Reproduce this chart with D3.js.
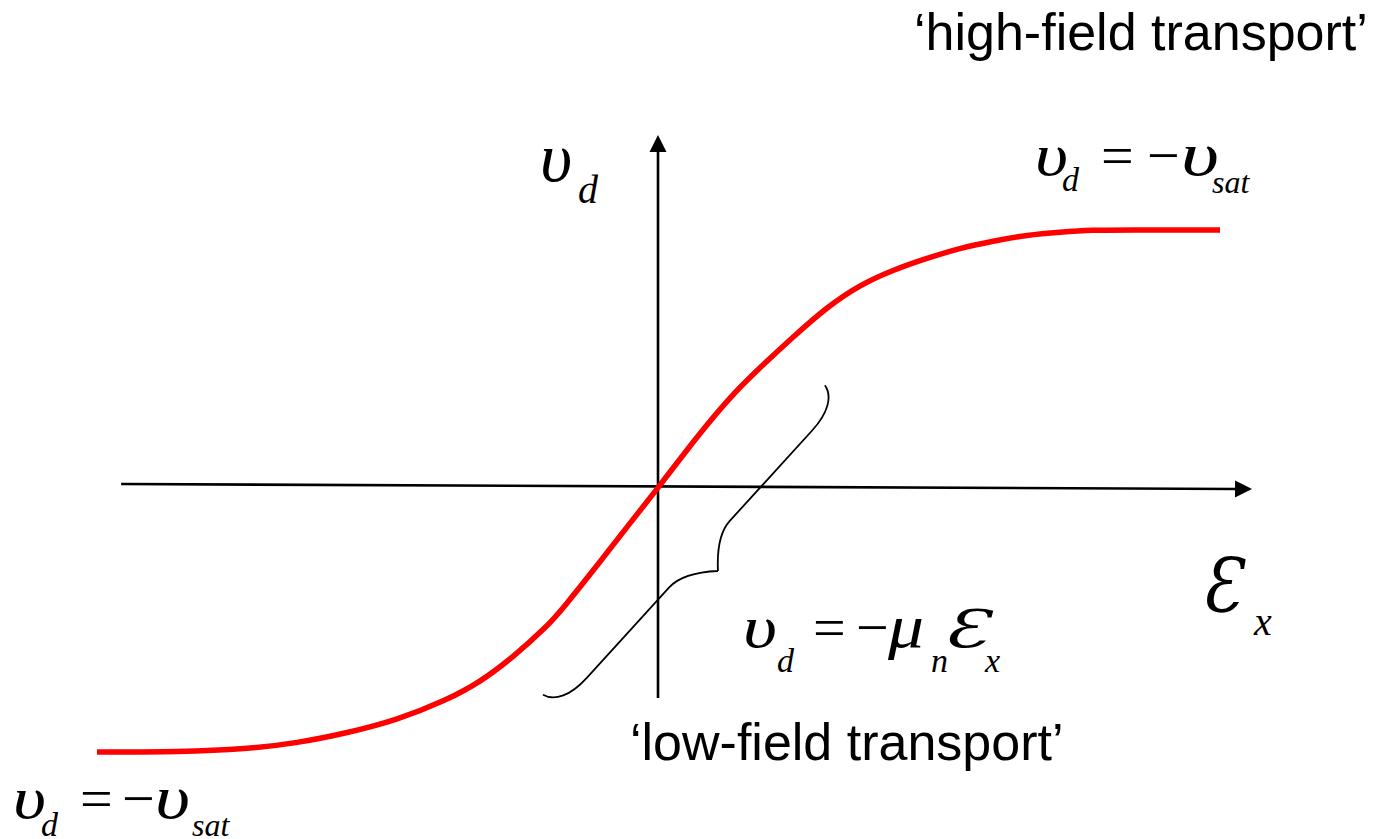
<!DOCTYPE html>
<html>
<head>
<meta charset="utf-8">
<script src="https://cdn.jsdelivr.net/npm/d3@7"></script>
<style>
  html, body { margin: 0; padding: 0; background: #fff; }
  svg { display: block; }
</style>
</head>
<body>
<svg id="chart" width="1385" height="839"></svg>
<script>
// Drift velocity vs. electric field: normalized field (x) and normalized drift velocity (y)
const fieldValues = [-1.000, -0.852, -0.733, -0.643, -0.554, -0.465, -0.376, -0.317, -0.258, -0.198, -0.169, -0.109, -0.050, 0.000,
                      0.069, 0.128, 0.183, 0.240, 0.301, 0.359, 0.418, 0.479, 0.537, 0.596, 0.657, 0.715, 0.774, 0.835, 1.000];
const driftValues = [-1.000, -1.000, -0.989, -0.966, -0.928, -0.879, -0.803, -0.735, -0.640, -0.525, -0.455, -0.295, -0.133, 0.000,
                      0.198, 0.353, 0.470, 0.585, 0.702, 0.787, 0.845, 0.891, 0.930, 0.957, 0.981, 0.992, 1.000, 1.000, 1.000];

// Axis extents in the same normalized units
const xAxisStart = [-0.957, 0.0155];
const xAxisEnd = [1.057, -0.004];
const yAxisStart = [0, -0.795];
const yAxisEnd = [0, 1.368];

// Low-field region bracket, from its lower tip to its upper tip
const braceFrom = [-0.205, -0.783];
const braceTo = [0.297, 0.398];

const svg = d3.select("#chart");

const x = d3.scaleLinear().domain([-1, 0, 1]).range([97, 658, 1220]);
const y = d3.scaleLinear().domain([-1, 0, 1]).range([752, 488, 230]);

// Axes with arrowheads
function arrow(from, to, headLen, headHalf) {
  const x1 = x(from[0]), y1 = y(from[1]), x2 = x(to[0]), y2 = y(to[1]);
  const len = Math.hypot(x2 - x1, y2 - y1);
  const ux = (x2 - x1) / len, uy = (y2 - y1) / len;
  const bx = x2 - ux * headLen, by = y2 - uy * headLen;
  svg.append("line")
    .attr("x1", x1).attr("y1", y1).attr("x2", bx + ux * 2).attr("y2", by + uy * 2)
    .attr("stroke", "#000").attr("stroke-width", 2.6);
  svg.append("path")
    .attr("d", `M${x2},${y2} L${bx - uy * headHalf},${by + ux * headHalf} L${bx + uy * headHalf},${by - ux * headHalf} Z`)
    .attr("fill", "#000");
}
arrow(xAxisStart, xAxisEnd, 17, 8.5);
arrow(yAxisStart, yAxisEnd, 17, 8.5);

// Velocity-field curve
const pts = fieldValues.map((f, i) => [f, driftValues[i]]);
svg.append("path")
  .datum(pts)
  .attr("fill", "none")
  .attr("stroke", "#ff0000")
  .attr("stroke-width", 5.5)
  .attr("d", d3.line().x(d => x(d[0])).y(d => y(d[1])).curve(d3.curveBasis));

// Curly bracket along the linear region
(function () {
  const ax = x(braceFrom[0]), ay = y(braceFrom[1]);
  const bx = x(braceTo[0]), by = y(braceTo[1]);
  const L = Math.hypot(bx - ax, by - ay);
  const ux = (bx - ax) / L, uy = (by - ay) / L;
  const vx = -uy, vy = ux;
  const h = 46, m = L / 2, bar = 21;
  const P = (a, b) => `${ax + a * ux + b * vx},${ay + a * uy + b * vy}`;
  const d =
    `M${P(0, 0)} C${P(3, 13)} ${P(18, bar)} ${P(42, bar)} L${P(m - 45, bar)} C${P(m - 28, bar)} ${P(m - 12, 34)} ${P(m, h)}` +
    ` M${P(L, 0)} C${P(L - 3, 13)} ${P(L - 18, bar)} ${P(L - 42, bar)} L${P(m + 45, bar)} C${P(m + 28, bar)} ${P(m + 12, 34)} ${P(m, h)}`;
  svg.append("path").attr("d", d).attr("fill", "none").attr("stroke", "#000").attr("stroke-width", 1.8);
})();

// Text pieces: [text, x, y, size, italic, family, width]
const serif = "'Liberation Serif', 'Times New Roman', serif";
const scriptE = "'DejaVu Serif', serif";
function pieces(list) {
  list.forEach(([t, px, py, size, italic, family, w]) => {
    const el = svg.append("text")
      .attr("x", px).attr("y", py)
      .attr("font-family", family || serif)
      .attr("font-size", size)
      .attr("font-style", italic ? "italic" : "normal")
      .attr("fill", "#000")
      .text(t);
    if (w) el.attr("textLength", w).attr("lengthAdjust", "spacingAndGlyphs");
  });
}

// Axis titles
pieces([
  ["υ", 540, 181, 70, true],
  ["d", 578, 203, 40, true],
  ["Ɛ", 1201, 612, 74, true, scriptE, 40],
  ["x", 1254, 635, 40, true]
]);

// Saturation labels
pieces([
  ["υ", 1035, 175, 60, true, null, 33],
  ["d", 1062, 191, 34, true],
  ["=", 1101, 175, 58, false],
  ["−", 1147, 175, 58, false],
  ["υ", 1181, 175, 62, true, null, 38],
  ["sat", 1212, 193, 32, true]
]);
pieces([
  ["υ", 13, 818, 60, true, null, 33],
  ["d", 41, 836, 34, true],
  ["=", 80, 818, 58, false],
  ["−", 122, 818, 58, false],
  ["υ", 155, 818, 62, true, null, 35],
  ["sat", 192, 836, 32, true]
]);

// Low-field relation
pieces([
  ["υ", 743, 647, 60, true, null, 34],
  ["d", 777, 672, 34, true],
  ["=", 813, 647, 58, false],
  ["−", 856, 647, 58, false],
  ["μ", 888, 647, 62, true, null, 36],
  ["n", 931, 672, 34, true],
  ["Ɛ", 943, 647, 53, true, scriptE, 45],
  ["x", 985, 672, 34, true]
]);

// Region captions
const sans = "'Liberation Sans', Arial, sans-serif";
svg.append("text").attr("x", 914).attr("y", 50).attr("font-family", sans).attr("font-size", 52).text("‘high-field transport’");
svg.append("text").attr("x", 630).attr("y", 760).attr("font-family", sans).attr("font-size", 52).text("‘low-field transport’");
</script>
</body>
</html>
